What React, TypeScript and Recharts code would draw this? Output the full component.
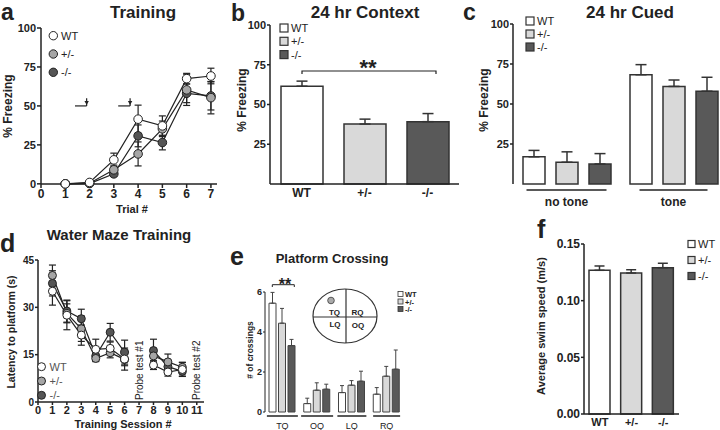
import React from 'react';
import {
  LineChart, Line, BarChart, Bar, Cell, XAxis, YAxis, ErrorBar, ReferenceLine, ReferenceDot,
} from 'recharts';

const FONT = '"Liberation Sans", Arial, Helvetica, sans-serif';
const INK = '#222';

// a: fear conditioning training
const trials = [1, 2, 3, 4, 5, 6, 7];
const trainWT = [0, 0.9, 15.4, 41.5, 37.2, 67.5, 69.2];
const trainWTErr = [0, 0.5, 4.3, 9, 6.4, 3.4, 5];
const trainHet = [0, 0.4, 9, 19.2, 35.3, 60.3, 55.3];
const trainHetErr = [0, 0.4, 3, 7.7, 5, 10, 10.4];
const trainKO = [0, 0.2, 6.4, 30.8, 26.5, 58.1, 56.4];
const trainKOErr = [0, 0.3, 1.7, 7, 4.7, 6, 9];

// b: 24 hr context
const genotypes = ['WT', '+/-', '-/-'];
const contextMean = [61.5, 37.7, 39.2];
const contextErr = [3.2, 3.1, 5.1];

// c: 24 hr cued
const cueGroups = ['no tone', 'tone'];
const cuedWT = [17, 68.3];
const cuedWTErr = [4, 6.3];
const cuedHet = [13.6, 61];
const cuedHetErr = [6.5, 4];
const cuedKO = [12.5, 58];
const cuedKOErr = [6.5, 8.7];

// d: water maze training
const sessions = [1, 2, 3, 4, 5, 6, 7, 8, 9, 10];
const mazeWT = [35.1, 27.5, 21.2, 16.7, 17, 13.6, null, 11.7, 9.5, 10.3];
const mazeWTErr = [4.4, 4.6, 3.2, 3.2, 2, 3.5, null, 1.4, 1.3, 2.2];
const mazeHet = [40.1, 28.1, 23.2, 13.8, 15.6, 13.5, null, 14.6, 12.7, 11];
const mazeHetErr = [3.3, 3, 4, 1, 1.6, 2, null, 2, 2.5, 1.6];
const mazeKO = [37.6, 28.8, 26.4, 14.6, 22.1, 15.8, null, 16.3, 11.2, 9.7];
const mazeKOErr = [4, 3.5, 3, 1.5, 2.8, 3.8, null, 3.6, 1.5, 1.5];

// e: platform crossings
const quadrants = ['TQ', 'OQ', 'LQ', 'RQ'];
const crossWT = [5.44, 0.42, 0.97, 0.89];
const crossWTErr = [0.54, 0.27, 0.35, 0.33];
const crossHet = [4.44, 1.09, 1.34, 1.79];
const crossHetErr = [0.74, 0.37, 0.23, 0.49];
const crossKO = [3.32, 1.14, 1.54, 2.14];
const crossKOErr = [0.31, 0.25, 0.5, 0.96];

// f: swim speed
const swimSpeed = [0.1268, 0.1244, 0.1291];
const swimErr = [0.0038, 0.0029, 0.0039];

const lineSeries = [
  { key: 'ko', fill: '#555555' },
  { key: 'het', fill: '#a6a6a6' },
  { key: 'wt', fill: '#ffffff' },
];
const barSeries = [
  { key: 'wt', fill: '#ffffff' },
  { key: 'het', fill: '#d9d9d9' },
  { key: 'ko', fill: '#595959' },
];
const genoFill = ['#ffffff', '#d9d9d9', '#595959'];

const tickStyle = (size: number, weight = 700) => ({ fill: INK, fontSize: size, fontWeight: weight, fontFamily: FONT });
const axisLine = { stroke: INK, strokeWidth: 1.5 };

const rows = (keys: Record<string, any[]>, idx: any[], name: string) =>
  idx.map((v, i) => {
    const r: any = { [name]: v };
    Object.keys(keys).forEach((k) => (r[k] = keys[k][i]));
    return r;
  });

const trainingData = rows({ wt: trainWT, wtE: trainWTErr, het: trainHet, hetE: trainHetErr, ko: trainKO, koE: trainKOErr }, trials, 't');
const mazeData = rows({ wt: mazeWT, wtE: mazeWTErr, het: mazeHet, hetE: mazeHetErr, ko: mazeKO, koE: mazeKOErr }, sessions, 's');
const up = (a: number[]) => a.map((e) => [0, e]);
const contextData = rows({ v: contextMean, e: up(contextErr) }, genotypes, 'g');
const cuedData = rows({ wt: cuedWT, wtE: up(cuedWTErr), het: cuedHet, hetE: up(cuedHetErr), ko: cuedKO, koE: up(cuedKOErr) }, cueGroups, 'g');
const crossData = rows({ wt: crossWT, wtE: up(crossWTErr), het: crossHet, hetE: up(crossHetErr), ko: crossKO, koE: up(crossKOErr) }, quadrants, 'q');
const swimData = rows({ v: swimSpeed, e: up(swimErr) }, genotypes, 'g');

// underline + label under each bar group (panels c and e)
const groupTick = (widths: number[], gap: number, dy: number, size: number, weight: number) => (p: any) => {
  const w = widths[p.index] ?? widths[0];
  return (
    <g>
      <line x1={p.x - w / 2} x2={p.x + w / 2} y1={p.y + gap} y2={p.y + gap} stroke={INK} strokeWidth={1.5} />
      <text x={p.x} y={p.y + dy} textAnchor="middle" fontSize={size} fontWeight={weight} fill={INK} fontFamily={FONT}>
        {p.payload.value}
      </text>
    </g>
  );
};

const arrowHead = (p: any) => (
  <path d={`M${p.cx - 2.2},${p.cy - 2.5} L${p.cx + 2.2},${p.cy - 2.5} L${p.cx},${p.cy + 1.5} Z`} fill={INK} />
);

function TrainingPanel() {
  const shocks = [[1.4, 1.88], [3.18, 3.67]];
  return (
    <LineChart width={240} height={215} data={trainingData} margin={{ top: 28, right: 23, bottom: 0, left: 0 }}>
      <XAxis type="number" dataKey="t" domain={[0, 7.25]} ticks={[0, 1, 2, 3, 4, 5, 6, 7]} interval={0} height={31}
        tickSize={4} tickMargin={1} axisLine={axisLine} tickLine={axisLine} tick={tickStyle(12)} />
      <YAxis domain={[0, 100]} ticks={[0, 25, 50, 75, 100]} interval={0} width={41} tickSize={4} tickMargin={1}
        axisLine={axisLine} tickLine={axisLine} tick={tickStyle(11)} />
      {shocks.map(([a, b]) => (
        <React.Fragment key={a}>
          <ReferenceLine segment={[{ x: a, y: 50 }, { x: b, y: 50 }]} stroke={INK} strokeWidth={1.2} />
          <ReferenceLine segment={[{ x: b, y: 50 }, { x: b, y: 55 }]} stroke={INK} strokeWidth={1.2} />
          <ReferenceDot x={b} y={51.6} shape={arrowHead} />
        </React.Fragment>
      ))}
      {lineSeries.map((s) => (
        <Line key={s.key} dataKey={s.key} stroke={INK} strokeWidth={1.2} isAnimationActive={false}
          dot={{ r: 4.3, fill: s.fill, stroke: INK, strokeWidth: 1 }} activeDot={false}>
          <ErrorBar dataKey={s.key + 'E'} width={3.5} stroke={INK} strokeWidth={1.2} direction="y" />
        </Line>
      ))}
    </LineChart>
  );
}

function ContextPanel() {
  return (
    <BarChart width={240} height={215} data={contextData} margin={{ top: 25, right: 11, bottom: 0, left: 0 }}>
      <XAxis dataKey="g" height={31} tickLine={false} tickSize={2} tickMargin={2} axisLine={axisLine} tick={tickStyle(12)} interval={0} />
      <YAxis domain={[0, 100]} ticks={[25, 50, 75, 100]} interval={0} width={40} tickSize={3} tickMargin={1}
        axisLine={axisLine} tickLine={axisLine} tick={tickStyle(11)} />
      <Bar dataKey="v" barSize={42} stroke="#333" strokeWidth={1.5} isAnimationActive={false}>
        {contextData.map((d, i) => <Cell key={d.g} fill={genoFill[i]} />)}
        <ErrorBar dataKey="e" width={5.5} stroke="#333" strokeWidth={1.5} direction="y" />
      </Bar>
    </BarChart>
  );
}

function CuedPanel() {
  return (
    <BarChart width={265} height={215} data={cuedData} barGap={11} margin={{ top: 24, right: 2, bottom: 0, left: 0 }}>
      <XAxis dataKey="g" height={31} axisLine={false} tickLine={false} tickSize={0} tickMargin={0} interval={0}
        padding={{ left: 0, right: 6 }} tick={groupTick([80, 68], 6, 22, 12, 700)} />
      <YAxis domain={[0, 100]} ticks={[25, 50, 75, 100]} interval={0} width={43} tickSize={3} tickMargin={1}
        axisLine={axisLine} tickLine={axisLine} tick={tickStyle(11)} />
      {barSeries.map((s) => (
        <Bar key={s.key} dataKey={s.key} barSize={22} fill={s.fill} stroke="#333" strokeWidth={1.5} isAnimationActive={false}>
          <ErrorBar dataKey={s.key + 'E'} width={5.5} stroke="#333" strokeWidth={1.5} direction="y" />
        </Bar>
      ))}
    </BarChart>
  );
}

function MazePanel() {
  return (
    <LineChart width={240} height={215} data={mazeData} margin={{ top: 45, right: 36, bottom: 0, left: 0 }}>
      <XAxis type="number" dataKey="s" domain={[0, 11.5]} ticks={[0, 1, 2, 3, 4, 5, 6, 7, 8, 9, 10, 11]} interval={0}
        height={28} tickSize={3} tickMargin={1} axisLine={axisLine} tickLine={axisLine} tick={tickStyle(11)} />
      <YAxis domain={[0, 45]} ticks={[0, 15, 30, 45]} interval={0} width={38} tickSize={3} tickMargin={1}
        axisLine={axisLine} tickLine={axisLine} tick={tickStyle(10)} />
      {lineSeries.map((s) => (
        <Line key={s.key} dataKey={s.key} stroke={INK} strokeWidth={1.2} isAnimationActive={false}
          dot={{ r: 4, fill: s.fill, stroke: INK, strokeWidth: 1 }} activeDot={false}>
          <ErrorBar dataKey={s.key + 'E'} width={3.5} stroke={INK} strokeWidth={1.2} direction="y" />
        </Line>
      ))}
    </LineChart>
  );
}

function CrossingPanel() {
  return (
    <BarChart width={240} height={215} data={crossData} barGap={2.5} margin={{ top: 77, right: 66, bottom: 0, left: 0 }}>
      <XAxis dataKey="q" height={18} axisLine={false} tickLine={false} tickSize={0} tickMargin={0} interval={0}
        tick={groupTick([31, 32, 29, 27], 4, 17, 9, 400)} />
      <YAxis domain={[0, 6]} ticks={[0, 2, 4, 6]} interval={0} width={35} tickSize={2} tickMargin={1}
        axisLine={{ stroke: INK, strokeWidth: 1 }} tickLine={{ stroke: INK }} tick={tickStyle(9)} />
      {barSeries.map((s) => (
        <Bar key={s.key} dataKey={s.key} barSize={7} fill={s.fill} stroke="#444" strokeWidth={1} isAnimationActive={false}>
          <ErrorBar dataKey={s.key + 'E'} width={2} stroke="#444" strokeWidth={1} direction="y" />
        </Bar>
      ))}
    </BarChart>
  );
}

function SwimPanel() {
  return (
    <BarChart width={250} height={215} data={swimData} margin={{ top: 29, right: 41, bottom: 0, left: 0 }}>
      <XAxis dataKey="g" height={16} tickLine={false} tickSize={2} tickMargin={2} axisLine={axisLine} tick={tickStyle(11)} interval={0} />
      <YAxis domain={[0, 0.15]} ticks={[0, 0.05, 0.1, 0.15]} interval={0} width={114} tickSize={3} tickMargin={1}
        tickFormatter={(v: number) => v.toFixed(2)} axisLine={axisLine} tickLine={axisLine} tick={tickStyle(12)} />
      <Bar dataKey="v" barSize={21} stroke="#333" strokeWidth={1.5} isAnimationActive={false}>
        {swimData.map((d, i) => <Cell key={d.g} fill={genoFill[i]} />)}
        <ErrorBar dataKey="e" width={5} stroke="#333" strokeWidth={1.5} direction="y" />
      </Bar>
    </BarChart>
  );
}

const T = ({ x, y, size, weight = 700, anchor = 'middle', rot = false, fill = INK, children }: any) => (
  <text x={x} y={y} fontSize={size} fontWeight={weight} textAnchor={anchor} fill={fill} fontFamily={FONT}
    transform={rot ? `rotate(-90 ${x} ${y})` : undefined} dominantBaseline={rot ? 'central' : undefined}>
    {children}
  </text>
);

const legendLabels = ['WT', '+/-', '-/-'];

function Overlay() {
  return (
    <svg width={720} height={430} style={{ position: 'absolute', left: 0, top: 0, pointerEvents: 'none' }}>
      {/* panel letters */}
      <T x={1} y={20} size={23} anchor="start">a</T>
      <T x={231} y={21} size={23} anchor="start">b</T>
      <T x={463} y={20} size={23} anchor="start">c</T>
      <T x={0} y={252} size={25} anchor="start">d</T>
      <T x={230} y={265} size={25} anchor="start">e</T>
      <T x={537} y={238} size={25} anchor="start">f</T>

      {/* titles */}
      <T x={143} y={18} size={17}>Training</T>
      <T x={365} y={18} size={17}>24 hr Context</T>
      <T x={630} y={18} size={17}>24 hr Cued</T>
      <T x={119} y={240} size={15}>Water Maze Training</T>
      <T x={332} y={263} size={13}>Platform Crossing</T>

      {/* axis titles */}
      <T x={8} y={106} size={12} rot>% Freezing</T>
      <T x={242} y={100} size={12} rot>% Freezing</T>
      <T x={484} y={100} size={12} rot>% Freezing</T>
      <T x={11} y={332} size={10.5} rot>Latency to platform (s)</T>
      <T x={250} y={350} size={8.5} rot># of crossings</T>
      <T x={541} y={326} size={11} rot>Average swim speed (m/s)</T>
      <T x={132} y={213} size={11}>Trial #</T>
      <T x={123} y={428} size={11}>Training Session #</T>
      <T x={139} y={400} size={10} weight={400} anchor="start" rot>Probe test #1</T>
      <T x={196} y={400} size={10} weight={400} anchor="start" rot>Probe test #2</T>

      {/* legends */}
      {legendLabels.map((l, i) => (
        <g key={l}>
          <circle cx={53.3} cy={35.7 + i * 18.3} r={4.2} fill={lineSeries[2 - i].fill} stroke={INK} />
          <T x={61} y={39.7 + i * 18.3} size={11} weight={400} anchor="start">{l}</T>
          <rect x={280} y={24 + i * 13.3} width={8} height={8} fill={genoFill[i]} stroke="#333" strokeWidth={1.2} />
          <T x={291} y={32 + i * 13.3} size={11} weight={400} anchor="start">{l}</T>
          <rect x={526} y={17 + i * 13} width={8} height={8} fill={genoFill[i]} stroke="#333" strokeWidth={1.2} />
          <T x={537} y={25 + i * 13} size={11} weight={400} anchor="start">{l}</T>
          <circle cx={41.5} cy={366.7 + i * 14.3} r={4} fill={lineSeries[2 - i].fill} stroke={INK} />
          <T x={49.5} y={370.5 + i * 14.3} size={11} weight={400} anchor="start" fill="#555">{l}</T>
          <rect x={398} y={291.5 + i * 7.5} width={5} height={5} fill={genoFill[i]} stroke="#333" strokeWidth={0.8} />
          <T x={405} y={297 + i * 7.5} size={7.5} anchor="start">{l}</T>
          <rect x={688} y={240.5 + i * 16} width={7} height={7} fill={genoFill[i]} stroke="#333" strokeWidth={1.2} />
          <T x={698} y={248 + i * 16} size={11} weight={400} anchor="start">{l}</T>
        </g>
      ))}

      {/* significance */}
      <path d="M302,74 L302,71 L436,71 L436,74" fill="none" stroke={INK} strokeWidth={1.2} />
      <T x={368} y={75} size={22}>**</T>
      <path d="M272.3,287 L272.3,284.7 L294.3,284.7 L294.3,287" fill="none" stroke={INK} strokeWidth={1} />
      <T x={285} y={290} size={16}>**</T>

      {/* pool diagram */}
      <ellipse cx={345} cy={316} rx={32} ry={27} fill="none" stroke="#333" strokeWidth={1.2} />
      <line x1={346} x2={346} y1={289} y2={343} stroke="#333" strokeWidth={1.2} />
      <line x1={313} x2={377} y1={317} y2={317} stroke="#333" strokeWidth={1.2} />
      <circle cx={331} cy={300.5} r={3.3} fill="#aaa" stroke="#555" />
      <T x={334.5} y={315} size={8}>TQ</T>
      <T x={357.5} y={315} size={8}>RQ</T>
      <T x={335} y={327} size={8}>LQ</T>
      <T x={358} y={327.5} size={8}>OQ</T>
    </svg>
  );
}

export default function App() {
  const at = (left: number, top: number) => ({ position: 'absolute' as const, left, top });
  return (
    <div style={{ position: 'absolute', left: 0, top: 0, width: 720, height: 430, overflow: 'hidden', background: '#fff', fontFamily: FONT }}>
      <div style={at(0, 0)}><TrainingPanel /></div>
      <div style={at(230, 0)}><ContextPanel /></div>
      <div style={at(470, 0)}><CuedPanel /></div>
      <div style={at(0, 215)}><MazePanel /></div>
      <div style={at(230, 215)}><CrossingPanel /></div>
      <div style={at(470, 215)}><SwimPanel /></div>
      <Overlay />
    </div>
  );
}
